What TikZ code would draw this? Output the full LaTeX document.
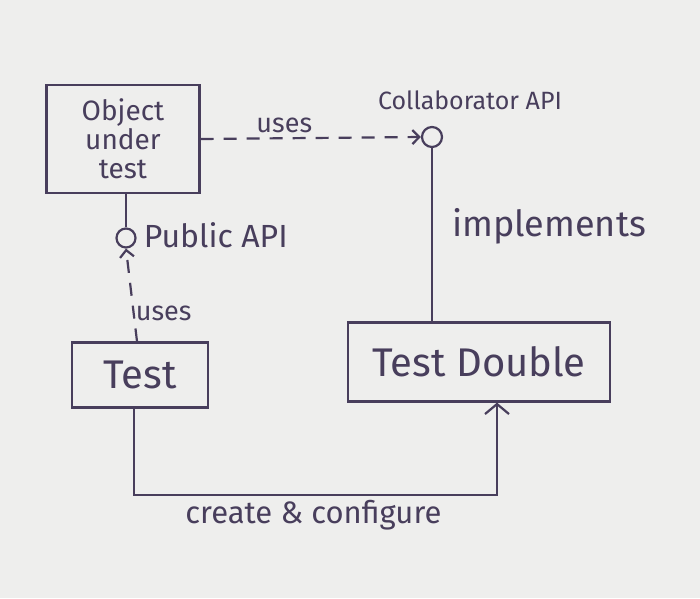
\documentclass[tikz,border=0pt]{standalone}
\usepackage{fontspec}
\setmainfont{Fira Sans}
\usetikzlibrary{arrows.meta}
\definecolor{ink}{RGB}{72,62,92}
\definecolor{paper}{RGB}{238,238,237}
\tikzset{
  box/.style={draw=ink,line width=2.2pt,inner sep=0pt},
  iface/.style={draw=ink,line width=2.2pt,circle,inner sep=0pt},
  lbl/.style={text=ink,inner sep=1pt},
  link/.style={draw=ink,line width=2.2pt},
  uses/.style={link,dash pattern=on 13pt off 10pt,-{Straight Barb[length=7pt,width=14pt]}},
}
\begin{document}
\begin{tikzpicture}[x=1pt,y=-1pt]
      \fill[paper] (0,0) rectangle (700,598);
      \useasboundingbox (0,0) rectangle (700,598);
      \node[box,minimum width=153pt,minimum height=108pt,align=center,text=ink,font=\fontsize{28}{29}\selectfont] (out) at (123,139) {Object\\under\\test};
      \node[iface,minimum size=19pt] (pub) at (126,238) {};
      \node[box,minimum width=136pt,minimum height=65pt,text=ink,font=\fontsize{40}{44}\selectfont] (test) at (140,375) {Test};
      \node[box,minimum width=262pt,minimum height=79pt,text=ink,font=\fontsize{40}{44}\selectfont] (double) at (479,362) {Test Double};
      \node[iface,minimum size=20pt] (collab) at (432,137) {};
      \node[lbl,anchor=west,font=\fontsize{32}{34}\selectfont] (publbl) at ([xshift=6pt,yshift=3pt]pub.east) {Public API};
      \node[lbl,font=\fontsize{25}{26}\selectfont] (collablbl) at (470,100) {Collaborator API};
      \draw[link] (out.south -| pub) -- (pub.north);
      \draw[uses] ([xshift=-3pt]test.north) -- (pub.south)
        node[lbl,pos=0.3,anchor=west,font=\fontsize{27}{28}\selectfont] (uses2) {uses};
      \draw[uses] (out.east) -- (collab.west)
        node[lbl,pos=0.38,above=3pt,font=\fontsize{27}{28}\selectfont] (uses1) {uses};
      \draw[link] (collab.south) -- (collab.south |- double.north)
        node[lbl,pos=0.45,anchor=west,xshift=18pt,font=\fontsize{36}{38}\selectfont] (impl) {implements};
      \draw[link,-{Straight Barb[length=10pt,width=24pt]}] ([xshift=-6pt]test.south) |- ([yshift=-92pt]double.south)
        node[lbl,pos=0.76,below=4pt,font=\fontsize{31}{32}\selectfont] (create) {create \& configure}
        -| ([xshift=18pt]double.south);
\end{tikzpicture}
\end{document}
